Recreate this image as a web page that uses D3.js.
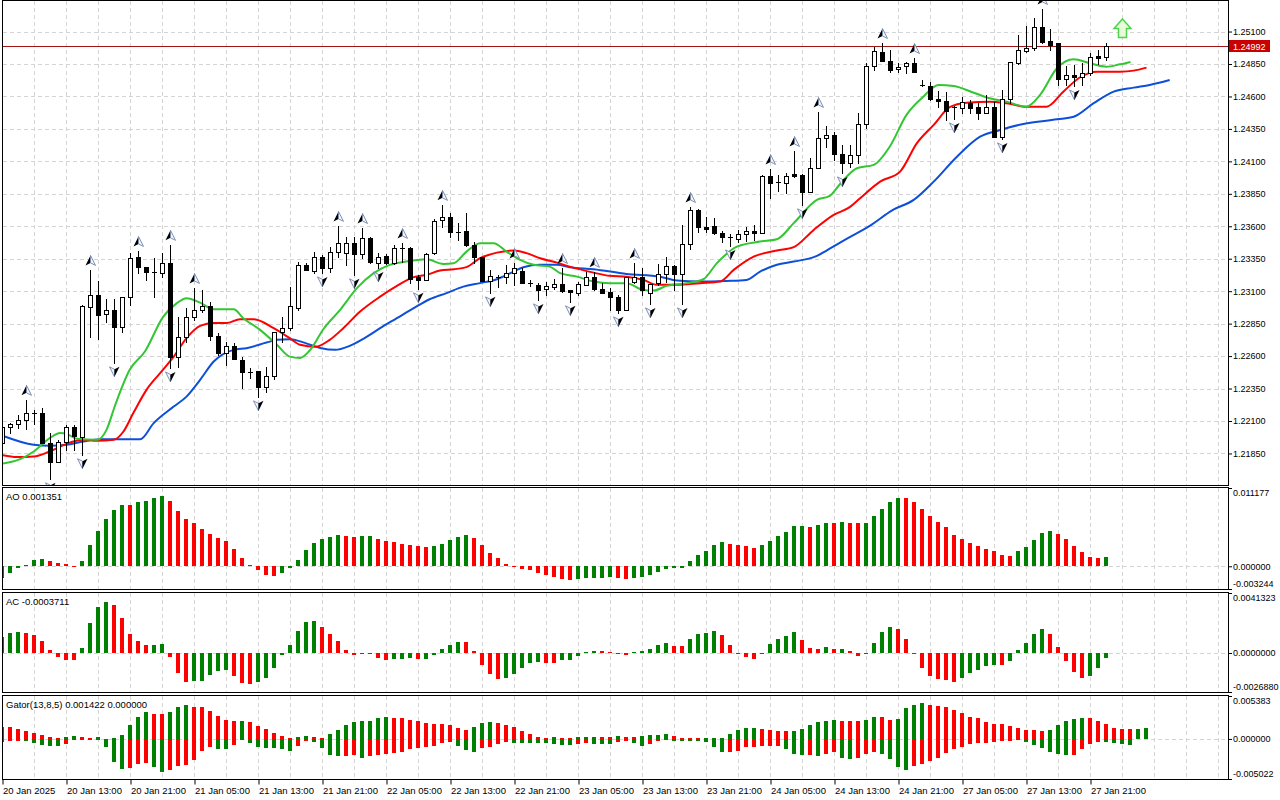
<!DOCTYPE html>
<html>
<head>
<meta charset="utf-8">
<script src="https://cdn.jsdelivr.net/npm/d3@7"></script>
<style>
  body { margin: 0; background: #fff; }
  svg text { font-family: "Liberation Sans", Arial, sans-serif; font-size: 9.5px; fill: #000; }
  svg .raxis text { font-size: 9px; }
</style>
</head>
<body>
<svg id="chart" width="1280" height="800"></svg>
<script>
// ---- data (EURUSD H1) ----
const opens = [
  1.21932,1.22055,1.22078,1.22109,1.22155,1.22163,1.21932,1.21786,1.21940,1.22055,
  1.21978,1.22979,1.23072,1.22925,1.22956,1.22825,1.23056,1.23364,1.23287,1.23249,
  1.23241,1.23318,1.22594,1.22748,1.22902,1.22956,1.22987,1.22756,1.22625,1.22679,
  1.22571,1.22479,1.22486,1.22363,1.22448,1.22787,1.22817,1.22971,1.23303,1.23256,
  1.23364,1.23279,1.23403,1.23395,1.23472,1.23387,1.23510,1.23318,1.23372,1.23318,
  1.23433,1.23433,1.23210,1.23187,1.23395,1.23649,1.23672,1.23557,1.23564,1.23457,
  1.23364,1.23179,1.23218,1.23210,1.23241,1.23256,1.23164,1.23149,1.23118,1.23133,
  1.23156,1.23110,1.23087,1.23149,1.23210,1.23118,1.23095,1.23056,1.22956,1.23172,
  1.23210,1.23087,1.23164,1.23233,1.23295,1.23233,1.23464,1.23726,1.23595,1.23603,
  1.23549,1.23518,1.23503,1.23541,1.23564,1.23549,1.23988,1.23934,1.23934,1.24003,
  1.23996,1.23865,1.24049,1.24280,1.24304,1.24157,1.24088,1.24150,1.24388,1.24835,
  1.24943,1.24873,1.24812,1.24835,1.24858,1.24689,1.24681,1.24581,1.24565,1.24511,
  1.24511,1.24550,1.24519,1.24473,1.24519,1.24288,1.24581,1.24858,1.24950,1.24973,
  1.25135,1.25027,1.25012,1.24735,1.24766,1.24750,1.24781,1.24912,1.24904
];
const highs = [
  1.22071,1.22086,1.22148,1.22263,1.22186,1.22201,1.22009,1.21955,1.22071,1.22071,
  1.22995,1.23264,1.23179,1.23041,1.23041,1.23056,1.23395,1.23410,1.23287,1.23356,
  1.23395,1.23457,1.22902,1.22971,1.23125,1.23110,1.23018,1.22779,1.22710,1.22702,
  1.22594,1.22509,1.22486,1.22517,1.22787,1.22902,1.23133,1.23326,1.23318,1.23403,
  1.23380,1.23441,1.23603,1.23518,1.23518,1.23587,1.23518,1.23395,1.23387,1.23457,
  1.23472,1.23441,1.23226,1.23395,1.23657,1.23765,1.23703,1.23626,1.23703,1.23480,
  1.23364,1.23264,1.23226,1.23303,1.23318,1.23279,1.23187,1.23164,1.23172,1.23195,
  1.23279,1.23110,1.23172,1.23249,1.23249,1.23164,1.23125,1.23072,1.23210,1.23318,
  1.23279,1.23156,1.23310,1.23364,1.23303,1.23611,1.23749,1.23734,1.23672,1.23664,
  1.23564,1.23541,1.23572,1.23595,1.23611,1.23996,1.24042,1.23996,1.24011,1.24180,
  1.24003,1.24126,1.24481,1.24373,1.24327,1.24227,1.24227,1.24473,1.24858,1.24981,
  1.25012,1.24958,1.24858,1.24866,1.24896,1.24727,1.24712,1.24642,1.24635,1.24527,
  1.24596,1.24573,1.24550,1.24612,1.24558,1.24650,1.24866,1.25074,1.25143,1.25204,
  1.25274,1.25120,1.25012,1.24835,1.24843,1.24858,1.24935,1.24958,1.25012
];
const lows = [
  1.21901,1.22009,1.22047,1.22040,1.22078,1.21932,1.21655,1.21786,1.21878,1.21878,
  1.21840,1.22748,1.22733,1.22864,1.22548,1.22787,1.22995,1.23241,1.23187,1.23056,
  1.23210,1.22509,1.22517,1.22710,1.22879,1.22941,1.22725,1.22610,1.22533,1.22579,
  1.22355,1.22432,1.22286,1.22325,1.22425,1.22710,1.22802,1.22956,1.23264,1.23241,
  1.23241,1.23249,1.23364,1.23303,1.23226,1.23356,1.23318,1.23279,1.23310,1.23310,
  1.23326,1.23164,1.23118,1.23187,1.23387,1.23595,1.23518,1.23495,1.23449,1.23318,
  1.23179,1.23087,1.23133,1.23164,1.23149,1.23164,1.23141,1.23033,1.23072,1.23118,
  1.23095,1.23018,1.23072,1.23149,1.23110,1.23087,1.22956,1.22933,1.22956,1.23164,
  1.23072,1.23002,1.23149,1.23172,1.23110,1.23002,1.23426,1.23557,1.23557,1.23541,
  1.23480,1.23449,1.23480,1.23487,1.23495,1.23549,1.23818,1.23872,1.23857,1.23980,
  1.23765,1.23865,1.24049,1.24211,1.24111,1.24011,1.24057,1.24088,1.24357,1.24804,
  1.24873,1.24789,1.24789,1.24781,1.24789,1.24681,1.24573,1.24519,1.24419,1.24427,
  1.24473,1.24473,1.24427,1.24473,1.24288,1.24273,1.24550,1.24850,1.24943,1.24958,
  1.25012,1.24958,1.24689,1.24689,1.24681,1.24689,1.24766,1.24850,1.24881
];
const closes = [
  1.22055,1.22078,1.22109,1.22163,1.22163,1.21932,1.21786,1.21940,1.22055,1.21986,
  1.22987,1.23072,1.22918,1.22956,1.22825,1.23056,1.23356,1.23287,1.23249,1.23251,
  1.23318,1.22594,1.22748,1.22902,1.22956,1.22987,1.22756,1.22625,1.22679,1.22579,
  1.22479,1.22481,1.22363,1.22448,1.22787,1.22817,1.22987,1.23303,1.23264,1.23364,
  1.23279,1.23403,1.23472,1.23472,1.23387,1.23510,1.23326,1.23364,1.23318,1.23433,
  1.23435,1.23195,1.23187,1.23387,1.23641,1.23672,1.23557,1.23559,1.23457,1.23364,
  1.23179,1.23218,1.23210,1.23241,1.23279,1.23164,1.23166,1.23110,1.23141,1.23156,
  1.23102,1.23095,1.23156,1.23210,1.23118,1.23087,1.23056,1.22956,1.23210,1.23210,
  1.23110,1.23156,1.23233,1.23295,1.23233,1.23464,1.23726,1.23595,1.23580,1.23549,
  1.23518,1.23520,1.23541,1.23564,1.23549,1.23988,1.23934,1.23942,1.23988,1.23988,
  1.23865,1.24049,1.24280,1.24304,1.24157,1.24088,1.24150,1.24388,1.24835,1.24950,
  1.24873,1.24804,1.24827,1.24858,1.24789,1.24691,1.24581,1.24565,1.24488,1.24519,
  1.24558,1.24511,1.24473,1.24519,1.24288,1.24581,1.24866,1.24958,1.24973,1.25135,
  1.25020,1.24997,1.24735,1.24766,1.24750,1.24781,1.24904,1.24896,1.24992
];

// Alligator lines as [bar, price] (already shifted forward like the terminal draws them)
const jaw = [
  [-0.3,1.21994],[3.9,1.21917],[5.9,1.21909],[8.0,1.21917],[10.1,1.21942],[12.2,1.21960],[17.2,1.21959],
  [18.9,1.22084],[21.4,1.22211],[23.0,1.22288],[24.7,1.22417],[26.4,1.22558],[28.9,1.22648],[30.5,1.22661],
  [33.0,1.22704],[34.3,1.22725],[35.9,1.22730],[37.8,1.22702],[39.7,1.22663],[41.6,1.22648],[43.4,1.22679],
  [45.3,1.22740],[47.2,1.22815],[49.3,1.22892],[51.4,1.22969],[53.4,1.23038],[55.5,1.23085],[57.6,1.23135],
  [59.7,1.23162],[61.8,1.23192],[63.9,1.23251],[65.1,1.23285],[67.2,1.23303],[69.3,1.23303],[70.9,1.23285],
  [73.9,1.23269],[78.0,1.23233],[82.2,1.23212],[84.3,1.23182],[87.2,1.23174],[90.5,1.23179],[93.0,1.23187],
  [94.7,1.23251],[96.8,1.23303],[98.9,1.23328],[101.8,1.23372],[103.0,1.23413],[104.7,1.23474],[105.9,1.23516],
  [108.4,1.23603],[111.3,1.23726],[113.9,1.23803],[116.4,1.23944],[119.3,1.24136],[122.2,1.24290],[124.7,1.24342],
  [127.6,1.24388],[131.8,1.24424],[133.9,1.24444],[136.4,1.24548],[138.9,1.24637],[141.4,1.24668],[143.4,1.24689],
  [145.9,1.24727]
];
const teeth = [
  [-0.3,1.21840],[1.8,1.21822],[3.9,1.21826],[5.9,1.21865],[8.0,1.21924],[10.1,1.21955],[11.8,1.21947],
  [13.9,1.21955],[15.1,1.22017],[16.4,1.22167],[18.0,1.22340],[19.7,1.22469],[21.4,1.22596],[23.0,1.22738],
  [24.7,1.22833],[26.4,1.22854],[28.0,1.22854],[29.7,1.22884],[31.4,1.22884],[33.9,1.22815],[35.9,1.22738],
  [37.2,1.22687],[39.1,1.22671],[40.9,1.22725],[42.6,1.22815],[44.7,1.22943],[47.2,1.23058],[49.3,1.23141],
  [51.4,1.23208],[53.0,1.23226],[54.7,1.23259],[56.4,1.23269],[58.0,1.23285],[59.7,1.23354],[61.8,1.23397],
  [63.9,1.23413],[65.5,1.23393],[67.2,1.23354],[69.3,1.23320],[70.9,1.23289],[73.9,1.23243],[75.9,1.23218],
  [78.0,1.23212],[80.1,1.23187],[81.8,1.23149],[84.3,1.23149],[87.2,1.23162],[89.7,1.23174],[91.4,1.23264],
  [93.9,1.23366],[96.8,1.23413],[98.9,1.23439],[101.4,1.23572],[103.9,1.23688],[105.9,1.23747],[107.2,1.23816],
  [109.7,1.23944],[112.2,1.24021],[114.3,1.24240],[116.4,1.24381],[118.4,1.24517],[120.5,1.24552],[123.4,1.24560],
  [125.5,1.24548],[128.0,1.24521],[130.5,1.24521],[132.6,1.24637],[134.7,1.24748],[136.8,1.24791],[139.7,1.24791],
  [141.4,1.24799],[143.0,1.24822]
];
const lips = [
  [-0.3,1.21770],[2.2,1.21806],[3.9,1.21865],[5.9,1.21968],[7.2,1.22007],[8.0,1.22001],[9.3,1.21963],
  [11.8,1.21955],[13.0,1.22032],[14.1,1.22225],[15.9,1.22494],[17.8,1.22635],[20.1,1.22904],[21.8,1.23008],
  [23.0,1.23046],[24.7,1.23012],[26.4,1.22961],[28.9,1.22961],[30.1,1.22892],[32.2,1.22802],[34.3,1.22687],
  [35.9,1.22596],[37.2,1.22586],[38.5,1.22650],[40.1,1.22807],[42.2,1.22956],[44.3,1.23123],[46.4,1.23239],
  [48.4,1.23303],[50.5,1.23328],[53.0,1.23346],[55.1,1.23310],[56.4,1.23316],[58.0,1.23405],[59.7,1.23470],
  [61.4,1.23470],[63.0,1.23405],[64.7,1.23341],[66.4,1.23303],[68.4,1.23289],[69.7,1.23239],[71.8,1.23212],
  [73.9,1.23174],[75.9,1.23162],[78.0,1.23162],[80.1,1.23110],[81.4,1.23105],[83.0,1.23141],[85.5,1.23162],
  [87.6,1.23192],[89.3,1.23316],[91.8,1.23443],[94.7,1.23482],[96.8,1.23500],[98.9,1.23624],[101.8,1.23803],
  [103.4,1.23834],[104.7,1.23926],[106.8,1.24047],[108.9,1.24073],[110.9,1.24213],[113.0,1.24458],[115.1,1.24598],
  [117.0,1.24689],[118.9,1.24681],[121.4,1.24629],[123.4,1.24586],[125.5,1.24560],[128.0,1.24521],[129.7,1.24612],
  [131.8,1.24817],[133.9,1.24886],[135.9,1.24856],[138.0,1.24829],[139.7,1.24848],[141.0,1.24866]
];

const upFractals = [3,11,17,21,24,42,45,50,55,64,70,74,79,86,96,99,102,110,114,130];
const downFractals = [6,10,14,21,32,40,44,47,52,61,67,71,77,81,85,91,100,105,119,125,134];

const bidPrice = 1.24992;
const signalBar = 140, signalPrice = 1.25197;

const ao = [
  -0.00171,-0.00095,-0.00021,0.00024,0.00085,0.00099,0.00071,0.00043,0.00028,0.0001,
  0.00071,0.00298,0.00497,0.00668,0.0081,0.00877,0.00874,0.00914,0.00938,0.0098,
  0.01009,0.00928,0.00796,0.00678,0.00615,0.0053,0.00465,0.00408,0.0036,0.00242,
  0.00118,0.00014,-0.00047,-0.00128,-0.00142,-0.00095,-0.00024,0.00085,0.00227,0.00337,
  0.00384,0.00416,0.0045,0.00426,0.00416,0.00426,0.0043,0.00384,0.00355,0.00351,
  0.00323,0.00308,0.00284,0.00274,0.00284,0.00323,0.00369,0.00416,0.0044,0.00408,
  0.00308,0.00195,0.00114,0.00033,-0.0001,-0.00033,-0.00057,-0.00095,-0.00128,-0.00152,
  -0.00175,-0.00199,-0.00185,-0.00168,-0.00165,-0.00163,-0.00152,-0.00166,-0.00185,-0.00166,
  -0.00152,-0.00118,-0.00081,-0.00033,-0.00028,-0.00018,0.00071,0.00156,0.00213,0.00298,
  0.00341,0.00323,0.00298,0.00284,0.00256,0.00298,0.00355,0.00426,0.00483,0.00568,
  0.00573,0.00554,0.00583,0.00625,0.00611,0.00639,0.00625,0.00611,0.00625,0.00711,
  0.00824,0.00924,0.0098,0.00973,0.00924,0.00824,0.00725,0.00639,0.00554,0.0044,
  0.00384,0.00327,0.00284,0.00242,0.00213,0.00156,0.00149,0.00213,0.0027,0.00369,
  0.00469,0.00497,0.00455,0.00384,0.00284,0.00199,0.00128,0.00121,0.00135
];
const ac = [
  0.00107,0.00136,0.00143,0.00136,0.00121,0.0008,0.00018,-0.00029,-0.00046,-0.0005,
  0.00032,0.00205,0.00314,0.00353,0.00334,0.00243,0.0013,0.0008,0.00053,0.00054,
  0.00059,-0.00029,-0.00136,-0.00198,-0.00194,-0.00193,-0.00152,-0.00125,-0.00118,-0.00159,
  -0.00205,-0.00211,-0.00198,-0.00175,-0.00102,-0.00016,0.00053,0.00148,0.00216,0.00223,
  0.00182,0.00128,0.0008,0.00018,-0.00012,-0.00005,0.00002,-0.00034,-0.00046,-0.00041,
  -0.00039,-0.00032,-0.00041,-0.00039,-0.00012,0.00027,0.00053,0.00075,0.00074,0.00012,
  -0.0008,-0.00148,-0.00177,-0.00175,-0.00143,-0.00102,-0.00068,-0.00061,-0.00068,-0.0007,
  -0.0005,-0.00046,-0.0002,0.00007,0.00012,0.00011,0.0001,-0.00005,-0.00012,0.00005,
  0.00012,0.00027,0.00053,0.00068,0.00046,0.00045,0.00095,0.0013,0.00136,0.00148,
  0.00121,0.00053,-0.00007,-0.00027,-0.00041,-0.00007,0.00059,0.00093,0.00116,0.00143,
  0.00087,0.00032,0.00025,0.00039,0.00025,0.00026,0.00012,-0.0002,0.00002,0.00066,
  0.00143,0.00182,0.00162,0.00093,-0.00005,-0.00102,-0.00157,-0.00177,-0.00184,-0.00198,
  -0.00171,-0.00136,-0.00116,-0.00089,-0.00082,-0.00083,-0.00055,0.00018,0.00066,0.00128,
  0.00168,0.00134,0.00039,-0.00055,-0.0013,-0.00171,-0.00157,-0.00102,-0.00037
];
const gatorUp = [
  0.00153,0.00152,0.00125,0.00103,0.00078,0.00054,0.00021,0.00009,0.00029,0.00041,
  0.00029,0.00009,0.00021,0.00004,0.00006,0.0005,0.00174,0.00278,0.00333,0.00312,
  0.0031,0.0034,0.00402,0.00424,0.00402,0.00401,0.00353,0.00287,0.00237,0.00224,
  0.00226,0.00208,0.00162,0.00125,0.00078,0.00037,0.00006,0.00021,0.00041,0.00029,
  0.00016,0.00059,0.00112,0.00174,0.00216,0.00224,0.00228,0.00258,0.0027,0.00258,
  0.00257,0.00237,0.00228,0.00203,0.00187,0.00186,0.00174,0.00141,0.00112,0.00146,
  0.00196,0.00216,0.00203,0.00174,0.00153,0.00103,0.00062,0.00029,0.00016,0.00029,
  0.00016,0.00012,0.00019,0.00029,0.0003,0.00029,0.00027,0.00041,0.00029,0.00027,
  0.00037,0.00046,0.00054,0.00066,0.00041,0.00016,0.00012,0.00009,0.0001,0.00016,
  0.00017,0.00066,0.00116,0.00141,0.00142,0.00128,0.00116,0.00103,0.00101,0.00102,
  0.00128,0.00178,0.00216,0.00228,0.0024,0.00228,0.00227,0.00226,0.0024,0.00278,
  0.00274,0.0024,0.00253,0.00383,0.00427,0.00449,0.00427,0.00415,0.00402,0.00358,
  0.00328,0.00278,0.00258,0.00208,0.00191,0.00183,0.00158,0.00141,0.00116,0.00115,
  0.00103,0.00116,0.00178,0.00228,0.00253,0.00265,0.00264,0.00228,0.00187,0.00135,
  0.00125,0.00123,0.00126,0.00142
];
const gatorDown = [
  -0.00034,-0.00032,-0.00021,-0.00022,-0.00046,-0.00075,-0.00087,-0.00088,-0.00066,-0.00012,
  -0.00011,-0.0001,-0.00012,-0.00103,-0.00295,-0.00378,-0.00365,-0.00315,-0.00303,-0.00358,
  -0.00415,-0.00395,-0.00336,-0.00328,-0.00262,-0.00146,-0.00096,-0.00128,-0.0013,-0.00078,
  -0.00012,-0.00054,-0.00103,-0.00116,-0.00117,-0.00128,-0.00146,-0.00087,-0.00021,-0.00037,
  -0.00116,-0.00199,-0.00212,-0.00211,-0.00199,-0.0024,-0.00212,-0.00199,-0.00187,-0.00171,
  -0.00158,-0.00128,-0.00116,-0.00103,-0.00087,-0.00046,-0.00034,-0.00083,-0.00137,-0.00158,
  -0.00116,-0.00096,-0.00066,-0.00034,-0.00046,-0.00054,-0.00055,-0.00056,-0.00057,-0.00062,
  -0.00075,-0.00076,-0.00066,-0.00054,-0.00066,-0.00067,-0.00069,-0.00034,-0.00032,-0.00054,
  -0.00083,-0.00066,-0.00021,-0.00012,-0.00021,-0.00022,-0.00024,-0.00025,-0.00034,-0.00103,
  -0.00166,-0.00164,-0.0015,-0.00103,-0.00102,-0.00087,-0.00086,-0.00085,-0.00128,-0.00191,
  -0.00203,-0.00202,-0.00216,-0.00191,-0.00166,-0.0024,-0.00253,-0.0024,-0.00191,-0.00166,
  -0.00187,-0.00253,-0.00358,-0.0039,-0.00336,-0.00312,-0.00278,-0.00233,-0.00171,-0.00121,
  -0.001,-0.00066,-0.0005,-0.00046,-0.00034,-0.00029,-0.00021,-0.00012,-0.00034,-0.00075,
  -0.00112,-0.00158,-0.00191,-0.00203,-0.00199,-0.00128,-0.00066,-0.00034,-0.00037,-0.0005,
  -0.00062,-0.00079
];

const priceTicks = [1.21850,1.22100,1.22350,1.22600,1.22850,1.23100,1.23350,1.23600,1.23850,1.24100,1.24350,1.24600,1.24850,1.25100];
const aoRange = [-0.003244, 0.011177];
const acRange = [-0.002688, 0.0041323];
const gatorRange = [-0.005022, 0.005383];
const timeBars = [0,8,16,24,32,40,48,56,64,72,80,88,96,104,112,120,128,136];
const timeLabels = ["20 Jan 2025","20 Jan 13:00","20 Jan 21:00","21 Jan 05:00","21 Jan 13:00","21 Jan 21:00",
  "22 Jan 05:00","22 Jan 13:00","22 Jan 21:00","23 Jan 05:00","23 Jan 13:00","23 Jan 21:00",
  "24 Jan 05:00","24 Jan 13:00","24 Jan 21:00","27 Jan 05:00","27 Jan 13:00","27 Jan 21:00"];
const captions = ["AO 0.001351", "AC -0.0003711", "Gator(13,8,5) 0.001422 0.000000"];

// ---- layout ----
const GREEN = "#008000", RED = "#ff0000";
const LEFT = 2.5, RIGHT = 1228;
const svg = d3.select("#chart");
const defs = svg.append("defs");

const x = d3.scaleLinear().domain([0, 152]).range([2.5, 1218.5]);
const yMain = d3.scaleLinear().domain([1.21607, 1.25343]).range([485, 0]);
const yAO = d3.scaleLinear().domain(aoRange).range([589, 488]);
const yAC = d3.scaleLinear().domain(acRange).range([692, 593]);
const yGator = d3.scaleLinear().domain(gatorRange).range([779, 696]);

const panels = [
  { id: "main", top: 0.5, bottom: 485.5 },
  { id: "ao", top: 487.5, bottom: 589.5 },
  { id: "ac", top: 592.5, bottom: 692.5 },
  { id: "gator", top: 695.5, bottom: 779.5 }
];

panels.forEach(p => {
  defs.append("clipPath").attr("id", "clip-" + p.id)
    .append("rect").attr("x", 3).attr("y", p.top + 0.5)
    .attr("width", RIGHT - 3).attr("height", p.bottom - p.top - 1);
});

// grid
const grid = svg.append("g").attr("stroke", "#d4d4d4").attr("stroke-dasharray", "4,3")
  .attr("shape-rendering", "crispEdges");
const gridBars = d3.range(4, 153, 4);
panels.forEach(p => {
  grid.append("g").selectAll("line").data(gridBars).join("line")
    .attr("x1", d => x(d)).attr("x2", d => x(d))
    .attr("y1", p.top).attr("y2", p.bottom);
});
grid.append("g").selectAll("line").data(priceTicks).join("line")
  .attr("x1", LEFT).attr("x2", RIGHT)
  .attr("y1", d => Math.round(yMain(d)) + 0.5).attr("y2", d => Math.round(yMain(d)) + 0.5);
[yAO, yAC, yGator].forEach(s => {
  grid.append("line").attr("x1", LEFT).attr("x2", RIGHT)
    .attr("y1", Math.round(s(0)) + 0.5).attr("y2", Math.round(s(0)) + 0.5);
});

// ---- main panel ----
const main = svg.append("g").attr("clip-path", "url(#clip-main)");

// bid line
const yBid = Math.round(yMain(bidPrice)) + 0.5;
main.append("line").attr("x1", LEFT).attr("x2", RIGHT).attr("y1", yBid).attr("y2", yBid)
  .attr("stroke", "#a31515").attr("stroke-width", 1);

// alligator
const line = d3.line().x(d => x(d[0])).y(d => yMain(d[1])).curve(d3.curveMonotoneX);
[[jaw, "#0d4fd8"], [teeth, "#ff0000"], [lips, "#33c633"]].forEach(([data, color]) => {
  main.append("path").datum(data).attr("d", line)
    .attr("fill", "none").attr("stroke", color).attr("stroke-width", 2)
    .attr("stroke-linejoin", "round");
});

// candles
const idx = d3.range(opens.length);
const candles = main.append("g").attr("shape-rendering", "crispEdges");
candles.selectAll("line.wick").data(idx).join("line").attr("class", "wick")
  .attr("x1", i => x(i)).attr("x2", i => x(i))
  .attr("y1", i => Math.round(yMain(highs[i]))).attr("y2", i => Math.round(yMain(lows[i])) + 1)
  .attr("stroke", "#000");
candles.selectAll("rect").data(idx.filter(i => Math.abs(yMain(opens[i]) - yMain(closes[i])) >= 1.5)).join("rect")
  .attr("x", i => x(i) - 2).attr("width", 4)
  .attr("y", i => Math.round(yMain(Math.max(opens[i], closes[i]))) + 0.5)
  .attr("height", i => Math.max(1, Math.round(yMain(Math.min(opens[i], closes[i]))) - Math.round(yMain(Math.max(opens[i], closes[i])))))
  .attr("fill", i => closes[i] >= opens[i] ? "#fff" : "#000")
  .attr("stroke", "#000");
candles.selectAll("line.doji").data(idx.filter(i => Math.abs(yMain(opens[i]) - yMain(closes[i])) < 1.5)).join("line")
  .attr("class", "doji")
  .attr("x1", i => x(i) - 2.5).attr("x2", i => x(i) + 2.5)
  .attr("y1", i => Math.round(yMain(closes[i])) + 0.5).attr("y2", i => Math.round(yMain(closes[i])) + 0.5)
  .attr("stroke", "#000");

// fractals
const fr = main.append("g");
const upG = fr.selectAll("g.up").data(upFractals).join("g").attr("class", "up")
  .attr("transform", i => `translate(${x(i)},${yMain(highs[i]) - 9.5})`);
upG.append("path").attr("d", "M0,-5L0,2.5L-5,5Z").attr("fill", "#000");
upG.append("path").attr("d", "M0,-5L5,5L0,2.5Z").attr("fill", "#f2f5fa")
  .attr("stroke", "#7384a8").attr("stroke-width", 0.9);
const dnG = fr.selectAll("g.dn").data(downFractals).join("g").attr("class", "dn")
  .attr("transform", i => `translate(${x(i)},${yMain(lows[i]) + 9})`);
dnG.append("path").attr("d", "M0,5L-5,-5L0,-2.5Z").attr("fill", "#f2f5fa")
  .attr("stroke", "#7384a8").attr("stroke-width", 0.9);
dnG.append("path").attr("d", "M0,5L0,-2.5L5,-5Z").attr("fill", "#000");

// signal arrow
main.append("path")
  .attr("transform", `translate(${x(signalBar)},${yMain(signalPrice)})`)
  .attr("d", "M0,0L8.5,9.5L4,9.5L4,18.5L-4,18.5L-4,9.5L-8.5,9.5Z")
  .attr("fill", "#e8fbd8").attr("stroke", "#4fd24f").attr("stroke-width", 1.5);

// ---- histograms ----
function histogram(id, values, y, colorOf) {
  svg.append("g").attr("clip-path", `url(#clip-${id})`).attr("shape-rendering", "crispEdges")
    .selectAll("rect").data(values).join("rect")
    .attr("x", (d, i) => x(i) - 2.5).attr("width", 4)
    .attr("y", d => Math.min(y(d), y(0)))
    .attr("height", d => Math.max(1, Math.abs(y(d) - y(0))))
    .attr("fill", colorOf);
}
const rising = arr => (d, i) => (i === 0 || d > arr[i - 1]) ? GREEN : RED;
histogram("ao", ao, yAO, rising(ao));
histogram("ac", ac, yAC, rising(ac));
histogram("gator", gatorUp, yGator, (d, i) => (i > 0 && d > gatorUp[i - 1]) ? GREEN : RED);
histogram("gator", gatorDown, yGator, (d, i) => (i > 0 && Math.abs(d) > Math.abs(gatorDown[i - 1])) ? GREEN : RED);

// ---- borders ----
const borders = svg.append("g").attr("fill", "none").attr("stroke", "#000").attr("shape-rendering", "crispEdges");
panels.forEach(p => {
  borders.append("rect").attr("x", LEFT).attr("y", p.top)
    .attr("width", RIGHT - LEFT).attr("height", p.bottom - p.top);
});

// ---- axes ----
function styleAxis(g) {
  g.select(".domain").remove();
  g.attr("font-family", null).attr("font-size", null);
  g.selectAll(".tick line").attr("stroke", "#000");
}
svg.append("g").attr("class", "raxis").attr("transform", `translate(${RIGHT},0)`)
  .call(d3.axisRight(yMain).tickValues(priceTicks).tickSize(4).tickPadding(1).tickFormat(d => d.toFixed(5)))
  .call(styleAxis);

[[yAO, aoRange, 6], [yAC, acRange, 7], [yGator, gatorRange, 6]].forEach(([s, r, dec]) => {
  const g = svg.append("g").attr("class", "raxis").attr("transform", `translate(${RIGHT},0)`)
    .call(d3.axisRight(s).tickValues([r[1], 0, r[0]]).tickSize(4).tickPadding(1).tickFormat(d => d.toFixed(dec)))
    .call(styleAxis);
  g.selectAll(".tick text").attr("y", (d) => d === r[1] ? 5 : d === r[0] ? -5 : 0);
});

// bid label
svg.append("rect").attr("x", RIGHT + 1).attr("y", yBid - 6.5).attr("width", 41).attr("height", 12)
  .attr("fill", "#c80000");
svg.append("text").attr("class", "raxis").attr("x", RIGHT + 5).attr("y", yBid + 3.5)
  .style("fill", "#fff").style("font-size", "9px")
  .text(bidPrice.toFixed(5));

// time axis
svg.append("g").attr("transform", "translate(0,779.5)")
  .call(d3.axisBottom(x).tickValues(timeBars).tickSize(5).tickPadding(3).tickFormat((d, i) => timeLabels[i]))
  .call(styleAxis)
  .selectAll(".tick text").attr("text-anchor", "start").attr("x", 0);

// indicator captions
svg.selectAll("text.caption").data(captions).join("text").attr("class", "caption")
  .attr("x", 6).attr("y", (d, i) => [500, 605, 708][i]).text(d => d);
</script>
</body>
</html>
